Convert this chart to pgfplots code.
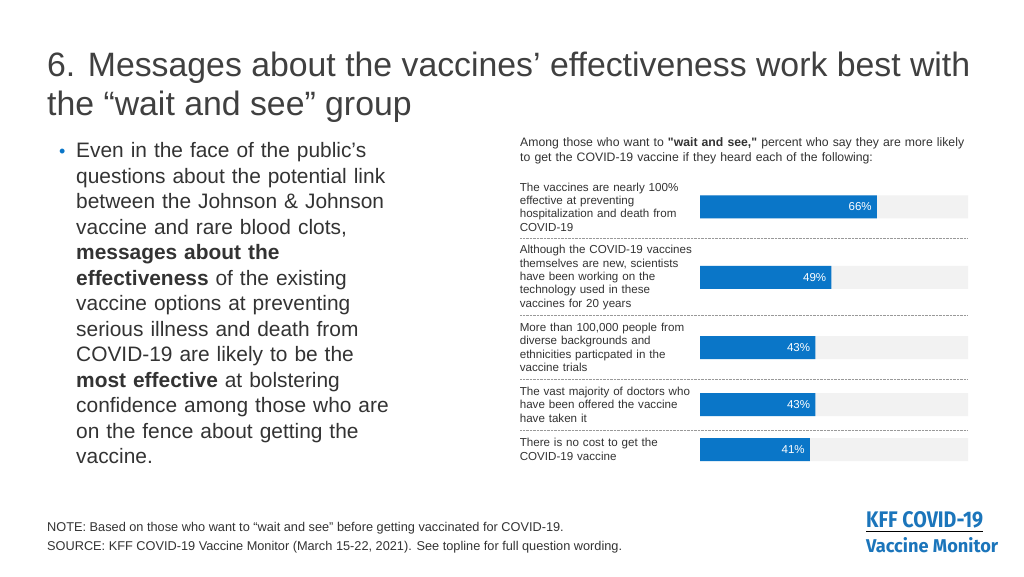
\documentclass[border=0pt]{standalone}
\usepackage{pgfplots}
\pgfplotsset{compat=1.18}
\usepackage{fontspec}
\setmainfont{Liberation Sans}
\newfontfamily\logofont{Fira Sans}
\definecolor{kblue}{HTML}{0A76C8}
\definecolor{kgrey}{HTML}{F2F2F2}
\definecolor{ktext}{HTML}{333333}
\definecolor{ktitle}{HTML}{404040}
\definecolor{klogo}{HTML}{1B75BB}
\begin{document}
\begin{tikzpicture}[x=1pt,y=1pt]
\fill[white] (0,0) rectangle (1024,576);
% title
\node[anchor=base west, inner sep=0, text=ktitle, font=\fontsize{33.8}{40}\selectfont] at (47,499) {6. Messages about the vaccines’ effectiveness work best with};
\node[anchor=base west, inner sep=0, text=ktitle, font=\fontsize{33.8}{40}\selectfont] at (47,460) {the “wait and see” group};
% bullet
\node[anchor=base west, inner sep=0, text=kblue, font=\fontsize{18}{18}\selectfont] at (59,418) {•};
\node[anchor=base west, inner sep=0, text width=340pt, align=left, text=ktext, font=\fontsize{20.9}{25.5}\selectfont] at (76,418) {Even in the face of the public’s\\
questions about the potential link\\
between the Johnson \& Johnson\\
vaccine and rare blood clots,\\
\textbf{messages about the}\\
\textbf{effectiveness} of the existing\\
vaccine options at preventing\\
serious illness and death from\\
COVID-19 are likely to be the\\
\textbf{most effective} at bolstering\\
confidence among those who are\\
on the fence about getting the\\
vaccine.};
% chart header
\node[anchor=base west, inner sep=0, text width=470pt, align=left, text=ktext, font=\fontsize{12.25}{15}\selectfont] at (520,429) {Among those who want to \textbf{\textquotedbl wait and see,\textquotedbl} percent who say they are more likely\\to get the COVID-19 vaccine if they heard each of the following:};
% separators
\foreach \yy in {338,261,197,146}{
  \draw[gray!80, line width=0.7pt, dash pattern=on 0.7pt off 0.7pt] (520,\yy) -- (967,\yy);
}
\begin{axis}[
  at={(700pt,0pt)}, anchor=south west,
  scale only axis, width=268pt, height=576pt,
  xmin=0, xmax=100, ymin=0, ymax=576,
  xbar, axis line style={draw=none},
  major tick length=0pt, xtick=\empty,
  /pgf/number format/assume math mode=true,
  ytick={369,298.5,228.5,171.5,126.5},
  yticklabels={
    {The vaccines are nearly 100\%\\effective at preventing\\hospitalization and death from\\COVID-19},
    {Although the COVID-19 vaccines\\themselves are new, scientists\\have been working on the\\technology used in these\\vaccines for 20 years},
    {More than 100,000 people from\\diverse backgrounds and\\ethnicities particpated in the\\vaccine trials},
    {The vast majority of doctors who\\have been offered the vaccine\\have taken it},
    {There is no cost to get the\\COVID-19 vaccine}},
  yticklabel style={text width=180pt, align=left, anchor=east, inner sep=0pt, xshift=0pt, text=ktext, font=\fontsize{11.6}{13.4}\selectfont},
  clip=false,
]
\addplot[fill=kgrey, draw=none, bar width=23pt, bar shift=0pt] coordinates {(100,369) (100,298.5) (100,228.5) (100,171.5) (100,126.5)};
\addplot[fill=kblue, draw=none, bar width=23pt, bar shift=0pt,
  point meta=x,
  nodes near coords={\pgfmathprintnumber{\pgfplotspointmeta}\%},
  nodes near coords style={anchor=east, inner sep=0pt, xshift=-5pt, text=white, font=\fontsize{11.5}{11.5}\selectfont}]
  coordinates {(66,369) (49,298.5) (43,228.5) (43,171.5) (41,126.5)};
\end{axis}
% notes
\node[anchor=base west, inner sep=0, text=ktext, font=\fontsize{12.75}{15}\selectfont] at (47,45) {NOTE: Based on those who want to “wait and see” before getting vaccinated for COVID-19.};
\node[anchor=base west, inner sep=0, text=ktext, font=\fontsize{12.75}{15}\selectfont] at (47,26) {SOURCE: KFF COVID-19 Vaccine Monitor (March 15-22, 2021). See topline for full question wording.};
% logo
\node[anchor=base west, inner sep=0, text=klogo, font=\logofont\bfseries\fontsize{17}{17}\selectfont] at (866,49) {\resizebox{117pt}{16pt}{KFF COVID-19}};
\draw[black, line width=1pt] (866,45) -- (983,45);
\node[anchor=base west, inner sep=0, text=klogo, font=\logofont\bfseries\fontsize{17}{17}\selectfont] at (866,24) {\resizebox{132pt}{15pt}{Vaccine Monitor}};
\end{tikzpicture}
\end{document}
